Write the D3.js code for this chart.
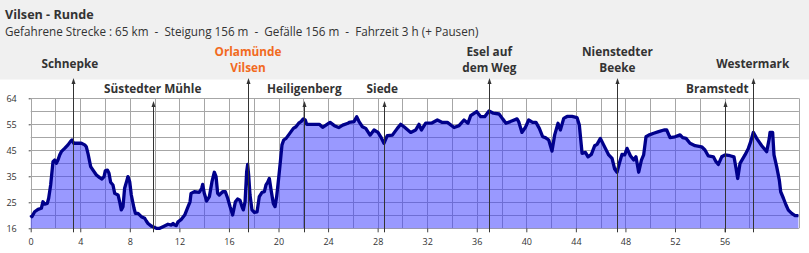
<!DOCTYPE html>
<html>
<head>
<meta charset="utf-8">
<script src="https://cdn.jsdelivr.net/npm/d3@7"></script>
<style>
body { margin: 0; background: #fff; }
svg { display: block; }
text { font-family: "Open Sans", "Noto Sans", sans-serif; }
</style>
</head>
<body>
<div id="chart-area"></div>
<script>
// profile data
const distanceKm = [0, 0.1, 0.32, 0.59, 0.86, 0.99, 1.13, 1.34, 1.45, 1.61, 1.8, 1.93, 2.07, 2.2, 2.34, 2.47, 2.74, 3.01, 3.2, 3.33, 3.47, 3.82, 4.09, 4.36, 4.49, 4.62, 4.84, 5.03, 5.3, 5.57, 5.75, 5.92, 6.02, 6.19, 6.32, 6.45, 6.64, 6.78, 7.05, 7.18, 7.31, 7.45, 7.58, 7.77, 7.85, 7.99, 8.12, 8.34, 8.45, 8.66, 8.93, 9.2, 9.33, 9.47, 9.74, 9.87, 10.14, 10.41, 10.68, 11.08, 11.35, 11.49, 11.62, 11.75, 11.89, 12.16, 12.43, 12.7, 12.86,
  12.94, 13.21, 13.61, 13.8, 13.88, 14.01, 14.2, 14.42, 14.63, 14.82, 14.96, 15.09, 15.22, 15.49, 15.71, 15.9, 16.09, 16.3, 16.52, 16.7, 16.89, 17.05, 17.16, 17.3, 17.43, 17.51, 17.59, 17.7, 17.86, 18.05, 18.27, 18.45, 18.67, 18.86, 18.99, 19.13, 19.26, 19.4, 19.58, 19.72, 19.85, 20.01, 20.15, 20.28, 20.42, 20.61, 20.82, 21.01, 21.2, 21.41, 21.63, 21.82, 22, 22.16, 22.27, 22.76, 23.29, 23.56, 23.83, 24.16, 24.51, 24.86, 25.18, 25.61,
  25.69, 26.09, 26.31, 26.5, 26.77, 27.04, 27.39, 27.71, 28.03, 28.25, 28.51, 28.78, 29.19, 29.59, 29.86, 30.13, 30.67, 31.07, 31.34, 31.53, 31.88, 32.34, 32.82, 33.22, 33.63, 34.17, 34.57, 34.97, 35.29, 35.51, 35.99, 36.32, 36.64, 36.99, 37.34, 37.8, 38.09, 38.36,
  38.71, 39.25, 39.38, 39.65, 39.92, 40.19, 40.51, 40.78, 41.05, 41.32, 41.54, 41.81, 42.07, 42.29, 42.56, 42.75, 43.02, 43.29, 43.69, 44.09, 44.28, 44.5, 44.77, 44.98, 45.25, 45.52, 45.71, 45.98, 46.24, 46.65, 46.92, 47.13, 47.32, 47.51, 47.72, 47.94, 48.13, 48.4, 48.67, 48.85, 49.07, 49.29, 49.47, 49.66, 49.88, 50.28, 50.68, 51.11,
  51.33, 51.6, 52, 52.41, 52.62, 52.89, 53.21, 53.62, 54.15, 54.42, 54.69, 55.1, 55.31, 55.5, 55.77, 56.04, 56.44, 56.76, 56.93, 57.06, 57.25, 57.65, 57.92, 58.11, 58.32, 58.59, 59, 59.4, 59.61, 59.67, 59.88, 59.99, 60.21, 60.42, 60.53, 60.75, 60.96, 61.15, 61.42, 61.69, 61.96]

const elevation = [20.9, 20.3, 22.1, 23, 23.4, 25.8, 24.9, 25.2, 27.1, 32, 40.6, 41.2, 40, 41.2, 43.1, 44.3, 45.5, 46.8, 48, 48.6, 47.4, 47.4, 47.4, 46.8, 46.1, 43.7, 38.8, 37.5, 35.7, 34.7, 34.2, 35.1, 37.2, 37.5, 36.3, 33, 32, 28.9, 28.3, 25.8, 22.8, 24, 30.8, 33.8, 35.1, 33.2, 28.3, 23.4, 21.5, 21.5, 20.3, 19.7, 18.7, 17.8, 16.8, 16.6, 16, 16, 16.6, 17.5, 17.2, 17.8, 17.2, 17, 18.4, 19.3, 20.9, 24, 25.8,
  28.9, 29.5, 29.3, 30.8, 32.2, 28.9, 26.1, 27.7, 33.2, 36.7, 35.1, 28.9, 28.3, 29.5, 29.5, 27.1, 24, 20.9, 25.8, 26.8, 26.4, 24, 22.8, 25.8, 36.9, 39.6, 35.7, 28.3, 22.8, 21.9, 22.1, 27.7, 29.3, 29.5, 32, 33, 34.4, 30.1, 25.2, 24, 27.7, 34.4, 40.6, 46.8, 48.6, 49.2, 50.5, 51.7, 52.9, 53.5, 54.8, 55.4, 56.4, 56, 54.4, 54.4, 54.4, 53.3, 54.1, 55.1, 53.9, 53.2, 54.1, 54.8,
  55.1, 55.4, 57.2, 55.4, 53.5, 52.9, 50.4, 52.3, 51.4, 49.8, 47.4, 50.2, 50.4, 52.9, 54.4, 53.5, 51.4, 52.3, 54.4, 52.3, 54.8, 54.8, 56, 55.1, 55.1, 53.2, 53.9, 56, 54.8, 57.6, 59.1, 57.2, 57.2, 59.3, 58.5, 58.2, 56.4, 54.8,
  55.4, 56.4, 55.4, 51.4, 53.2, 56, 55.1, 55.1, 52.9, 49.8, 49.5, 48.6, 44.5, 50.5, 54.8, 52.3, 56.6, 57.3, 57.3, 56.9, 54.1, 43.7, 44, 42.4, 43.3, 46.5, 47, 49.2, 46.8, 43.1, 41.8, 37.9, 36.7, 40, 43.3, 43.1, 45.5, 42.8, 41.2, 42.4, 36.7, 41.2, 43.1, 49.8, 50.4, 51.1, 51.7, 52.3,
  52.3, 49.5, 49.8, 50.5, 49.5, 49.2, 47.4, 46.5, 46.1, 44.9, 42.7, 42.4, 40.6, 39.6, 42.4, 43.1, 42.8, 42.4, 38.1, 34.4, 40, 43.1, 45.5, 48, 51.4, 49.2, 46.5, 44.3, 49.2, 51.4, 51.4, 43.1, 38.7, 33.8, 29.5, 27.1, 24.6, 22.7, 21.5, 20.7, 20.7]

const xTicks = [0, 4, 8, 12, 16, 20, 24, 28, 32, 36, 40, 44, 48, 52, 56]
const yTicks = [16, 25.6, 35.2, 44.8, 54.4, 64]
const yTickLabels = ['16', '25', '35', '45', '55', '64']

// places along the route
const poiLines = [['Schnepke'], ['Süstedter Mühle'], ['Orlamünde', 'Vilsen'], ['Heiligenberg'], ['Siede'],
  ['Esel auf', 'dem Weg'], ['Nienstedter', 'Beeke'], ['Bramstedt'], ['Westermark']]
const poiKm = [3.41, 9.85, 17.54, 22.08, 28.54, 37.01, 47.35, 56.06, 58.27]
const poiTier = [1, 2, 0, 2, 2, 0, 0, 2, 1]
const poiHighlight = [false, false, true, false, false, false, false, false, false]

const title = 'Vilsen - Runde'
const subtitle = 'Gefahrene Strecke : 65 km  -  Steigung 156 m  -  Gefälle 156 m  -  Fahrzeit 3 h (+ Pausen)'

let width = 809,
  height = 253

let svg = d3.select('#chart-area').append('svg')
  .attr('width', width)
  .attr('height', height)

// header band
svg.append('rect')
  .attr('x', 0).attr('y', 0)
  .attr('width', width).attr('height', 79.5)
  .attr('fill', '#f0f0f0')

svg.append('text')
  .attr('x', 5).attr('y', 19)
  .attr('font-size', 12.6)
  .attr('font-weight', 700)
  .attr('fill', '#333')
  .text(title)

svg.append('text')
  .attr('x', 5).attr('y', 35.5)
  .attr('font-size', 11.7)
  .attr('fill', '#333')
  .style('white-space', 'pre')
  .text(subtitle)

let x = d3.scaleLinear().domain([0, 62]).range([30.7, 798.9])
let y = d3.scaleLinear().domain([16, 64]).range([228.3, 98.3])

// grid
let grid = svg.append('g').attr('stroke', '#a6a6a6').attr('stroke-width', 1)
grid.selectAll('.hg')
  .data(d3.range(11).map(i => 16 + 4.8 * i))
  .enter().append('line')
  .attr('x1', x(0)).attr('x2', x(62))
  .attr('y1', d => Math.round(y(d)) + 0.5)
  .attr('y2', d => Math.round(y(d)) + 0.5)
grid.selectAll('.vg')
  .data(d3.range(0, 60, 2).concat([62]))
  .enter().append('line')
  .attr('x1', d => Math.round(x(d)) + 0.5)
  .attr('x2', d => Math.round(x(d)) + 0.5)
  .attr('y1', y(64)).attr('y2', y(16))

let profile = distanceKm.map((d, i) => [d, elevation[i]])

let area = d3.area()
  .x(d => x(d[0]))
  .y0(y(16))
  .y1(d => y(d[1]))

svg.append('path')
  .datum(profile)
  .attr('d', area)
  .attr('fill', 'rgb(60,60,255)')
  .attr('fill-opacity', 0.52)

let line = d3.line()
  .x(d => x(d[0]))
  .y(d => y(d[1]))

svg.append('path')
  .datum(profile)
  .attr('d', line)
  .attr('fill', 'none')
  .attr('stroke', '#00008b')
  .attr('stroke-width', 3.3)
  .attr('stroke-linejoin', 'round')

// axes
let xAxis = svg.append('g')
  .attr('transform', 'translate(0,' + y(16) + ')')
  .call(d3.axisBottom(x).tickValues(xTicks).tickSize(4).tickPadding(6).tickFormat(d3.format('d')))
xAxis.select('.domain').remove()
xAxis.selectAll('line').attr('stroke', '#444')
xAxis.selectAll('text').attr('font-size', 9).attr('fill', '#333')
  .attr('font-family', '"Liberation Sans", sans-serif')

let yAxis = svg.append('g')
  .attr('transform', 'translate(' + x(0) + ',0)')
  .call(d3.axisLeft(y).tickValues(yTicks).tickSize(2).tickPadding(12).tickFormat((d, i) => yTickLabels[i]))
yAxis.select('.domain').remove()
yAxis.selectAll('line').attr('stroke', '#444')
yAxis.selectAll('text').attr('font-size', 9).attr('fill', '#333')
  .attr('font-family', '"Liberation Sans", sans-serif')

// place markers
let arrowTop = [78, 78, 101]
let labelShift = { 'Schnepke': -3, 'Siede': -2, 'Bramstedt': -8 }

let poi = svg.selectAll('.poi')
  .data(poiKm.map((k, i) => ({ km: k, lines: poiLines[i], tier: poiTier[i], hi: poiHighlight[i] })))
  .enter().append('g')
  .attr('class', 'poi')

poi.append('line')
  .attr('x1', d => Math.round(x(d.km)) + 0.5)
  .attr('x2', d => Math.round(x(d.km)) + 0.5)
  .attr('y1', d => arrowTop[d.tier] + 4)
  .attr('y2', y(16) + 4)
  .attr('stroke', '#333')
  .attr('stroke-width', 1)

poi.append('path')
  .attr('d', d => {
    let cx = Math.round(x(d.km)) + 0.5, t = arrowTop[d.tier]
    return 'M' + cx + ',' + t + 'L' + (cx - 2) + ',' + (t + 6) + 'L' + (cx + 2) + ',' + (t + 6) + 'Z'
  })
  .attr('fill', '#333')

poi.each(function(d) {
  let g = d3.select(this)
  let base = d.tier === 0 ? [55.5, 72] : (d.tier === 1 ? [68] : [92.5])
  d.lines.forEach((t, j) => {
    g.append('text')
      .attr('x', x(d.km) + (labelShift[t] || 0))
      .attr('y', base[j])
      .attr('text-anchor', 'middle')
      .attr('font-size', 11.8)
      .attr('font-weight', 700)
      .attr('fill', d.hi ? '#f26a1e' : '#333')
      .text(t)
  })
})
</script>
</body>
</html>
